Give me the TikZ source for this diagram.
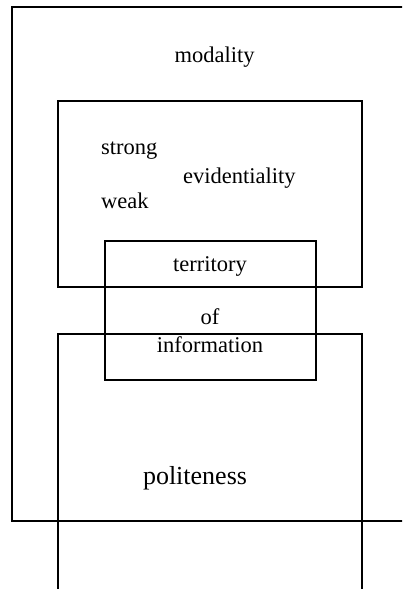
\documentclass[tikz,border=0pt]{standalone}
\usepackage{fontspec}
\setmainfont{Liberation Serif}
\begin{document}
\begin{tikzpicture}[x=1pt,y=-1pt,
  box/.style={draw=black,line width=1.6pt},
  lbl/.style={inner sep=0pt,font=\fontsize{22.5}{27}\selectfont},
  biglbl/.style={inner sep=0pt,font=\fontsize{26}{31}\selectfont}]
\clip (0,0) rectangle (402,589);
\fill[white] (0,0) rectangle (402,589);
% modality (outer, open on the right)
\draw[box] (410,7) -- (12,7) -- (12,521) -- (410,521);
% evidentiality
\draw[box] (58,101) rectangle (362,287);
% politeness (open at bottom)
\draw[box] (58,600) -- (58,334) -- (362,334) -- (362,600);
% territory of information
\draw[box] (105,241) rectangle (316,380);
% labels
\node[lbl,anchor=base] (modality) at (214.5,62) {modality};
\node[lbl,anchor=base west] (strong) at (101,154) {strong};
\node[lbl,anchor=base west] (evid) at (183,183) {evidentiality};
\node[lbl,anchor=base west] (weak) at (101,208) {weak};
\node[lbl,anchor=base] (territory) at (210,271) {territory};
\node[lbl,anchor=base] (of) at (210,324) {of};
\node[lbl,anchor=base] (information) at (210,352) {information};
\node[biglbl,anchor=base] (politeness) at (195,484) {politeness};
\end{tikzpicture}
\end{document}
